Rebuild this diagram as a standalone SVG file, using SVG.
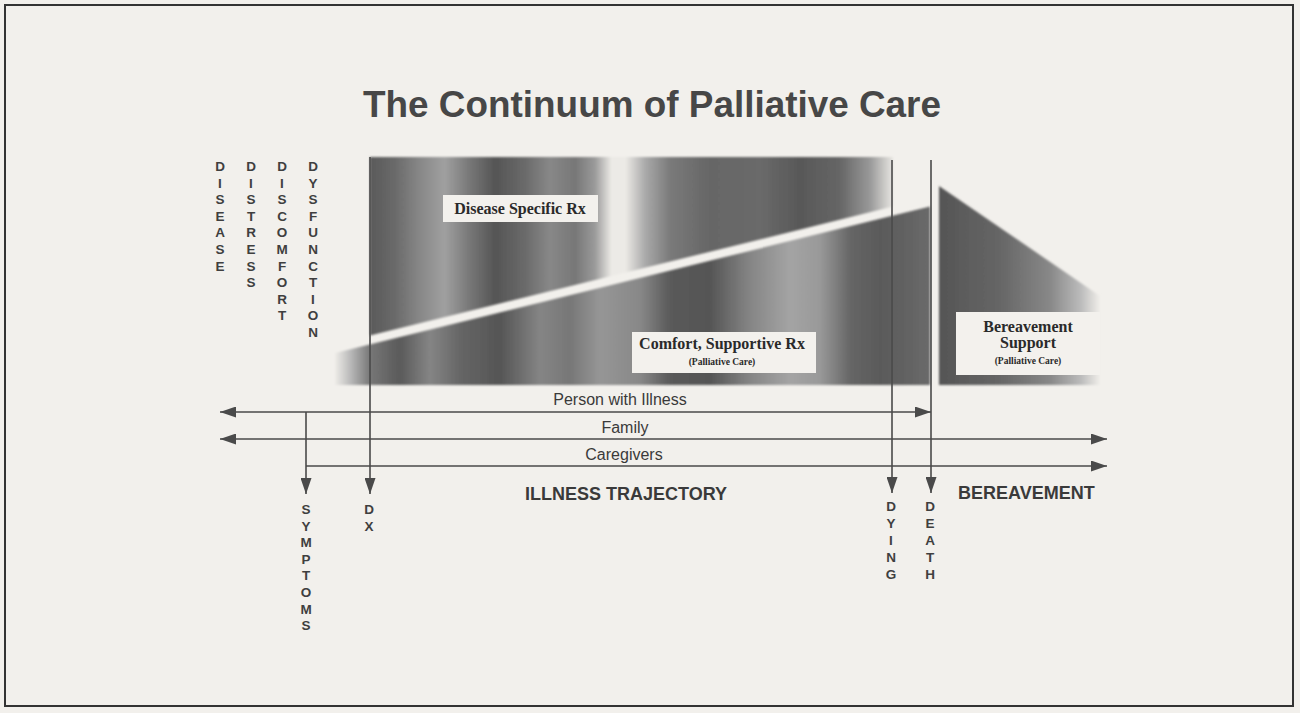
<svg xmlns="http://www.w3.org/2000/svg" width="1300" height="713" viewBox="0 0 1300 713">
  <defs>
    <style>
      .title { font-family: "Liberation Sans", Arial, sans-serif; font-weight: bold; font-size: 36px; fill: #474747; }
      .vert { font-family: "Liberation Sans", Arial, sans-serif; font-weight: bold; font-size: 13.5px; fill: #3f3f3f; text-anchor: middle; }
      .lane { font-family: "Liberation Sans", Arial, sans-serif; font-size: 16px; fill: #3a3a3a; text-anchor: middle; }
      .phase { font-family: "Liberation Sans", Arial, sans-serif; font-weight: bold; font-size: 18px; fill: #3a3a3a; }
      .box { fill: #f3f1ed; }
      .rx { font-family: "Liberation Serif", "Times New Roman", serif; font-weight: bold; font-size: 16px; fill: #2a2a2a; text-anchor: middle; }
      .sub { font-family: "Liberation Serif", "Times New Roman", serif; font-weight: bold; font-size: 9.5px; fill: #2a2a2a; text-anchor: middle; }
      .conn { stroke: #4a4a4a; stroke-width: 1.6; fill: none; }
    </style>
    <marker id="arrow" viewBox="0 0 16 11" refX="16" refY="5.5" markerWidth="16" markerHeight="11" markerUnits="userSpaceOnUse" orient="auto-start-reverse">
      <path d="M0,0 L16,5.5 L0,11 z" fill="#4a4a4a"/>
    </marker>
    <!-- banded shading of the disease-specific treatment area -->
    <linearGradient id="upperGrad" gradientUnits="userSpaceOnUse" x1="370" y1="0" x2="893" y2="0">
      <stop offset="0" stop-color="#5a5a5a"/>
      <stop offset="0.048" stop-color="#6a6a6a"/>
      <stop offset="0.096" stop-color="#888888"/>
      <stop offset="0.143" stop-color="#a0a0a0"/>
      <stop offset="0.191" stop-color="#777777"/>
      <stop offset="0.239" stop-color="#555555"/>
      <stop offset="0.296" stop-color="#6a6a6a"/>
      <stop offset="0.344" stop-color="#888888"/>
      <stop offset="0.392" stop-color="#777777"/>
      <stop offset="0.430" stop-color="#9a9a9a"/>
      <stop offset="0.462" stop-color="#eceae6"/>
      <stop offset="0.488" stop-color="#eceae6"/>
      <stop offset="0.526" stop-color="#aaaaaa"/>
      <stop offset="0.574" stop-color="#7a7a7a"/>
      <stop offset="0.650" stop-color="#666666"/>
      <stop offset="0.746" stop-color="#6a6a6a"/>
      <stop offset="0.822" stop-color="#585858"/>
      <stop offset="0.899" stop-color="#666666"/>
      <stop offset="0.956" stop-color="#999999"/>
      <stop offset="1" stop-color="#e8e6e2"/>
    </linearGradient>
    <!-- banded shading of the comfort / supportive care area -->
    <linearGradient id="lowerGrad" gradientUnits="userSpaceOnUse" x1="335" y1="0" x2="930" y2="0">
      <stop offset="0" stop-color="#eeece8"/>
      <stop offset="0.025" stop-color="#bbbbbb"/>
      <stop offset="0.059" stop-color="#777777"/>
      <stop offset="0.109" stop-color="#5a5a5a"/>
      <stop offset="0.160" stop-color="#858585"/>
      <stop offset="0.210" stop-color="#666666"/>
      <stop offset="0.277" stop-color="#555555"/>
      <stop offset="0.345" stop-color="#858585"/>
      <stop offset="0.395" stop-color="#777777"/>
      <stop offset="0.445" stop-color="#969696"/>
      <stop offset="0.513" stop-color="#888888"/>
      <stop offset="0.563" stop-color="#5a5a5a"/>
      <stop offset="0.630" stop-color="#555555"/>
      <stop offset="0.697" stop-color="#858585"/>
      <stop offset="0.765" stop-color="#a4a4a4"/>
      <stop offset="0.815" stop-color="#999999"/>
      <stop offset="0.866" stop-color="#666666"/>
      <stop offset="0.916" stop-color="#5a5a5a"/>
      <stop offset="1" stop-color="#6a6a6a"/>
    </linearGradient>
    <linearGradient id="bereaveGrad" gradientUnits="userSpaceOnUse" x1="939" y1="0" x2="1100" y2="0">
      <stop offset="0" stop-color="#555555"/>
      <stop offset="0.38" stop-color="#666666"/>
      <stop offset="0.69" stop-color="#888888"/>
      <stop offset="0.88" stop-color="#bbbbbb"/>
      <stop offset="1" stop-color="#f0eeea"/>
    </linearGradient>
    <filter id="soft" x="-5%" y="-5%" width="110%" height="110%">
      <feGaussianBlur stdDeviation="0.8"/>
    </filter>
  </defs>

  <!-- page -->
  <rect x="0" y="0" width="1300" height="713" fill="#f2f0ec"/>
  <rect x="5" y="5" width="1288" height="701" fill="none" stroke="#333333" stroke-width="2"/>

  <text id="title" class="title" x="363" y="117" textLength="578" lengthAdjust="spacingAndGlyphs">The Continuum of Palliative Care</text>

  <!-- dimensions of care -->
  <g id="dimensions">
    <text class="vert"><tspan x="220" y="171">D</tspan><tspan x="220" dy="16.6">I</tspan><tspan x="220" dy="16.6">S</tspan><tspan x="220" dy="16.6">E</tspan><tspan x="220" dy="16.6">A</tspan><tspan x="220" dy="16.6">S</tspan><tspan x="220" dy="16.6">E</tspan></text>
    <text class="vert"><tspan x="251" y="171">D</tspan><tspan x="251" dy="16.6">I</tspan><tspan x="251" dy="16.6">S</tspan><tspan x="251" dy="16.6">T</tspan><tspan x="251" dy="16.6">R</tspan><tspan x="251" dy="16.6">E</tspan><tspan x="251" dy="16.6">S</tspan><tspan x="251" dy="16.6">S</tspan></text>
    <text class="vert"><tspan x="282" y="171">D</tspan><tspan x="282" dy="16.6">I</tspan><tspan x="282" dy="16.6">S</tspan><tspan x="282" dy="16.6">C</tspan><tspan x="282" dy="16.6">O</tspan><tspan x="282" dy="16.6">M</tspan><tspan x="282" dy="16.6">F</tspan><tspan x="282" dy="16.6">O</tspan><tspan x="282" dy="16.6">R</tspan><tspan x="282" dy="16.6">T</tspan></text>
    <text class="vert"><tspan x="313" y="171">D</tspan><tspan x="313" dy="16.6">Y</tspan><tspan x="313" dy="16.6">S</tspan><tspan x="313" dy="16.6">F</tspan><tspan x="313" dy="16.6">U</tspan><tspan x="313" dy="16.6">N</tspan><tspan x="313" dy="16.6">C</tspan><tspan x="313" dy="16.6">T</tspan><tspan x="313" dy="16.6">I</tspan><tspan x="313" dy="16.6">O</tspan><tspan x="313" dy="16.6">N</tspan></text>
  </g>

  <!-- treatment areas -->
  <g id="disease-specific">
    <polygon points="370,157 893,157 893,206.6 370,335.5" fill="url(#upperGrad)" filter="url(#soft)"/>
    <rect class="box" x="443" y="195" width="155" height="27"/>
    <text class="rx" x="520" y="214">Disease Specific  Rx</text>
  </g>

  <g id="comfort-supportive">
    <polygon points="335,353 930,206.5 930,385 335,385" fill="url(#lowerGrad)" filter="url(#soft)"/>
    <rect class="box" x="632" y="332" width="184" height="41"/>
    <text class="rx" x="722" y="349">Comfort, Supportive Rx</text>
    <text class="sub" x="722" y="365">(Palliative Care)</text>
  </g>

  <g id="bereavement-support">
    <polygon points="939,186 1100,296 1100,385 939,385" fill="url(#bereaveGrad)" filter="url(#soft)"/>
    <rect class="box" x="956" y="312" width="144" height="63"/>
    <text class="rx" x="1028" y="332">Bereavement</text>
    <text class="rx" x="1028" y="348">Support</text>
    <text class="sub" x="1028" y="364">(Palliative Care)</text>
  </g>

  <!-- timelines and milestones -->
  <g id="connectors">
    <line class="conn" x1="220" y1="412" x2="931" y2="412" marker-start="url(#arrow)" marker-end="url(#arrow)"/>
    <line class="conn" x1="220" y1="439" x2="1107" y2="439" marker-start="url(#arrow)" marker-end="url(#arrow)"/>
    <line class="conn" x1="306" y1="466" x2="1107" y2="466" marker-end="url(#arrow)"/>
    <line class="conn" x1="306" y1="412" x2="306" y2="494" marker-end="url(#arrow)"/>
    <line class="conn" x1="370" y1="157" x2="370" y2="494" marker-end="url(#arrow)"/>
    <line class="conn" x1="892" y1="160" x2="892" y2="493" marker-end="url(#arrow)"/>
    <line class="conn" x1="931" y1="160" x2="931" y2="493" marker-end="url(#arrow)"/>
  </g>

  <g id="lanes">
    <text class="lane" x="620" y="405">Person with Illness</text>
    <text class="lane" x="625" y="433">Family</text>
    <text class="lane" x="624" y="460">Caregivers</text>
  </g>

  <g id="phases">
    <text class="phase" x="525" y="500">ILLNESS TRAJECTORY</text>
    <text class="phase" x="958" y="499">BEREAVEMENT</text>
  </g>

  <g id="milestones">
    <text class="vert"><tspan x="306" y="514">S</tspan><tspan x="306" dy="16.6">Y</tspan><tspan x="306" dy="16.6">M</tspan><tspan x="306" dy="16.6">P</tspan><tspan x="306" dy="16.6">T</tspan><tspan x="306" dy="16.6">O</tspan><tspan x="306" dy="16.6">M</tspan><tspan x="306" dy="16.6">S</tspan></text>
    <text class="vert"><tspan x="369" y="514">D</tspan><tspan x="369" dy="16.6">X</tspan></text>
    <text class="vert"><tspan x="891" y="511">D</tspan><tspan x="891" dy="17">Y</tspan><tspan x="891" dy="17">I</tspan><tspan x="891" dy="17">N</tspan><tspan x="891" dy="17">G</tspan></text>
    <text class="vert"><tspan x="930" y="511">D</tspan><tspan x="930" dy="17">E</tspan><tspan x="930" dy="17">A</tspan><tspan x="930" dy="17">T</tspan><tspan x="930" dy="17">H</tspan></text>
  </g>
</svg>
